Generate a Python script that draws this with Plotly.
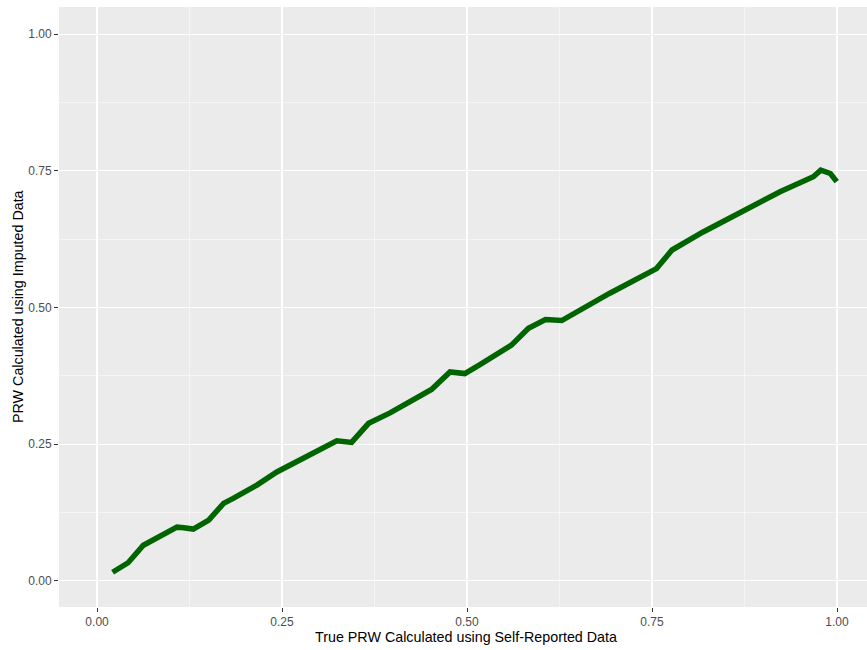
import plotly.graph_objects as go

x_true = [0.021, 0.042, 0.0626, 0.087, 0.108, 0.117, 0.130, 0.151, 0.171, 0.184,
          0.216, 0.243, 0.288, 0.299, 0.324, 0.344, 0.367, 0.396, 0.452, 0.477,
          0.497, 0.518, 0.560, 0.583, 0.606, 0.628, 0.693, 0.756, 0.777, 0.819,
          0.873, 0.923, 0.968, 0.978, 0.991, 0.9996]
y_imputed = [0.0155, 0.033, 0.065, 0.082, 0.098, 0.097, 0.0946, 0.111, 0.1415, 0.1507,
             0.175, 0.199, 0.230, 0.239, 0.256, 0.253, 0.288, 0.307, 0.350, 0.382,
             0.379, 0.396, 0.431, 0.462, 0.478, 0.476, 0.526, 0.571, 0.605, 0.638,
             0.675, 0.7115, 0.739, 0.751, 0.745, 0.730]

tick_vals = [0.0, 0.25, 0.5, 0.75, 1.0]
tick_text = ["0.00", "0.25", "0.50", "0.75", "1.00"]

x_title = "True PRW Calculated using Self-Reported Data"
y_title = "PRW Calculated using Imputed Data"

font_family = "Liberation Sans, Arial, sans-serif"

W, H = 867, 650
ML, MR, MT, MB = 59, 0, 7, 43
PW, PH = W - ML - MR, H - MT - MB

fig = go.Figure()
fig.add_trace(go.Scatter(
    x=x_true, y=y_imputed, mode="lines",
    line=dict(color="#006400", width=5.5),
    showlegend=False, hoverinfo="skip",
))

axis_common = dict(
    tickvals=tick_vals, ticktext=tick_text,
    showgrid=True, gridcolor="white", gridwidth=1.1,
    zeroline=False, showline=False, automargin=False,
    ticks="outside", ticklen=4, tickwidth=1, tickcolor="#333333",
    tickfont=dict(family=font_family, size=12, color="#4D4D4D"),
    minor=dict(tick0=0.125, dtick=0.25, showgrid=True, gridcolor="white", gridwidth=0.5, ticks=""),
)

fig.update_layout(
    width=W, height=H,
    margin=dict(l=ML, r=MR, t=MT, b=MB, autoexpand=False),
    paper_bgcolor="white", plot_bgcolor="#EBEBEB",
    font=dict(family=font_family, color="black"),
    xaxis=dict(range=[-0.0514, 1.0405], **axis_common),
    yaxis=dict(range=[-0.048, 1.0495], **axis_common),
    annotations=[
        dict(text=x_title, xref="paper", yref="paper",
             x=(466 - ML) / PW, y=-(637 - (MT + PH)) / PH,
             xanchor="center", yanchor="middle", showarrow=False,
             font=dict(family=font_family, size=14.3, color="black")),
        dict(text=y_title, xref="paper", yref="paper",
             x=-(ML - 18) / PW, y=0.5, textangle=-90,
             xanchor="center", yanchor="middle", showarrow=False,
             font=dict(family=font_family, size=14.3, color="black")),
    ],
)

fig.write_html(
    "out.html",
    config={"displayModeBar": False, "staticPlot": True},
    post_script="document.body.style.margin='0';document.body.style.overflow='hidden';",
)
